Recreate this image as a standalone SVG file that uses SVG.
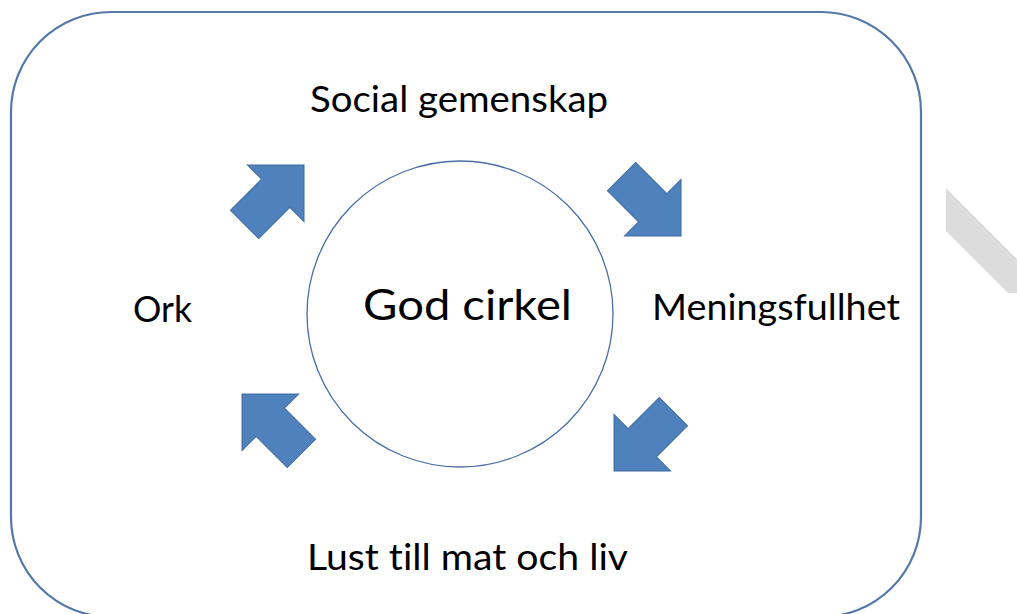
<svg xmlns="http://www.w3.org/2000/svg" width="1017" height="614" viewBox="0 0 1017 614">
<style>
.lbl{font-family:Lato,"Open Sans","Liberation Sans",sans-serif;fill:#000;font-variant-ligatures:none;font-feature-settings:"liga" 0,"clig" 0;}
.arr{fill:#4f81bd;stroke:#3f6aa0;stroke-width:1;}
</style>
<defs>
<polygon id="blk" points="0,0 -40,-40 -40,-20 -84,-20 -84,20 -40,20 -40,40"/>
</defs>
<rect width="1017" height="614" fill="#fff"/>
<polygon points="946,188 1017,259 1017,293 1008,293 946,231" fill="#dcdcdc"/>
<g id="frame">
<rect x="11" y="12" width="910" height="605" rx="100" ry="100" fill="none" stroke="#5578a8" stroke-width="2.2"/>
</g>
<g id="center">
<circle cx="460" cy="314" r="153" fill="#fff" stroke="#4a6fa5" stroke-width="1.3"/>
<text class="lbl" x="363" y="320" font-size="43" textLength="209" lengthAdjust="spacingAndGlyphs">God cirkel</text>
</g>
<g id="social"><text class="lbl" x="310" y="112" font-size="37" textLength="298" lengthAdjust="spacingAndGlyphs">Social gemenskap</text></g>
<g id="ork"><text class="lbl" x="133" y="322" font-size="37" textLength="59" lengthAdjust="spacingAndGlyphs">Ork</text></g>
<g id="mening"><text class="lbl" x="652" y="320" font-size="37" textLength="248" lengthAdjust="spacingAndGlyphs">Meningsfullhet</text></g>
<g id="lust"><text class="lbl" x="307" y="570" font-size="37" textLength="321" lengthAdjust="spacingAndGlyphs">Lust till mat och liv</text></g>
<g id="connectors">
<use href="#blk" class="arr" transform="translate(304,165) rotate(-45)"/>
<use href="#blk" class="arr" transform="translate(681,236) rotate(45)"/>
<use href="#blk" class="arr" transform="translate(614,471) rotate(135)"/>
<use href="#blk" class="arr" transform="translate(242,394) rotate(-135)"/>
</g>
</svg>
